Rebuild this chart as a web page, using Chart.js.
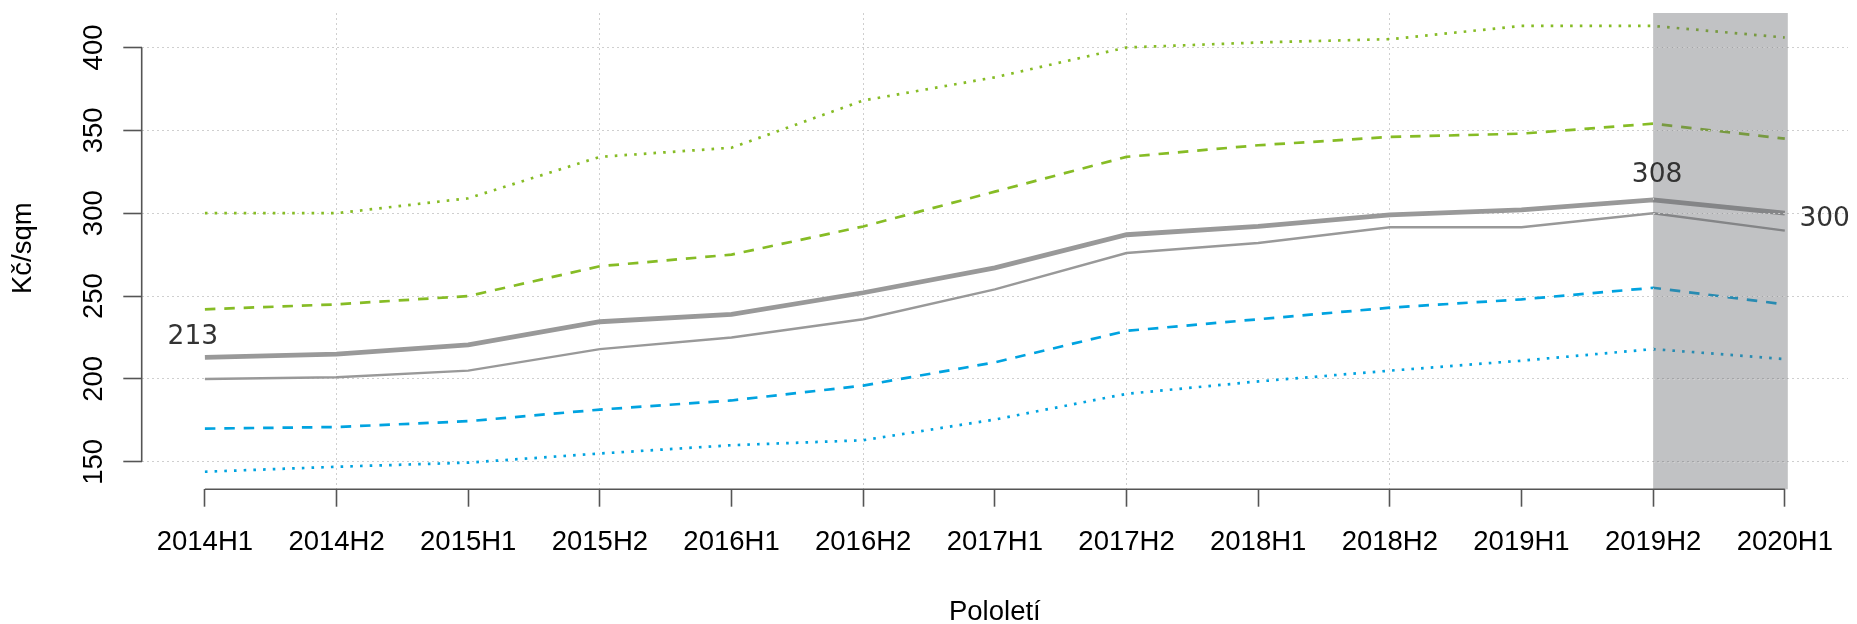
<!DOCTYPE html>
<html>
<head>
<meta charset="utf-8">
<title>Kč/sqm po pololetích</title>
<script src="https://cdn.jsdelivr.net/npm/chart.js@4.4.1/dist/chart.umd.min.js"></script>
<style>
  html, body { margin: 0; padding: 0; background: #fff; }
  canvas { display: block; }
</style>
</head>
<body>
<canvas id="priceChart" width="1857" height="624"></canvas>
<script>
const periods = ["2014H1", "2014H2", "2015H1", "2015H2", "2016H1", "2016H2", "2017H1",
  "2017H2", "2018H1", "2018H2", "2019H1", "2019H2", "2020H1"];
const p90 = [300, 300, 309, 334, 339.5, 368, 382, 400, 403, 405, 413, 413, 406];
const p75 = [242, 245, 250, 268, 275, 292, 313, 334, 341, 346, 348, 354, 345];
const avg = [213, 215, 220.5, 234.5, 239, 252, 267, 287, 292, 299, 302, 308, 300];
const median = [200, 201, 205, 218, 225, 236, 254, 276, 282, 291.5, 291.5, 300, 289.5];
const p25 = [170, 171, 174.5, 181.5, 187, 196, 210, 229, 236, 243, 248, 255, 245];
const p10 = [144, 147, 149.5, 155, 160, 163, 175.5, 191, 198.5, 205, 211, 218, 212];
const yTicks = [150, 200, 250, 300, 350, 400];
const shadeFrom = "2019H2";

const GREEN = "#86bc25", BLUE = "#00a3e0", GREY = "#999999";
const AXIS = "#555555", GRID = "#cfcfcf";
const SANS = "'Liberation Sans', Arial, sans-serif";
const DASHED = [10.5, 8.9], DOTTED = [2.6, 7.1];

function series(values, color, width, dash) {
  return {
    data: values.map((v, i) => ({ x: i, y: v })),
    borderColor: color,
    borderWidth: width,
    borderDash: dash,
    pointRadius: 0,
    tension: 0,
    fill: false,
  };
}

// R-like axes: short axis lines, rotated y labels, titles, shading + value labels
const rStyle = {
  id: "rStyle",
  afterDatasetsDraw(chart) {
    const { ctx, chartArea: area, scales: { x, y } } = chart;
    const x0 = x.getPixelForValue(periods.indexOf(shadeFrom));
    const x1 = x.getPixelForValue(periods.length - 1) + 3;
    ctx.save();
    ctx.fillStyle = "rgba(100,102,107,0.4)";
    ctx.fillRect(x0, area.top, x1 - x0, area.bottom - area.top);
    // grid stays light on top of the shading
    ctx.beginPath();
    ctx.rect(x0, area.top, x1 - x0, area.bottom - area.top);
    ctx.clip();
    ctx.strokeStyle = GRID;
    ctx.lineWidth = 1;
    ctx.setLineDash([2, 3]);
    ctx.beginPath();
    yTicks.forEach((v) => {
      const py = Math.round(y.getPixelForValue(v)) + 0.5;
      ctx.moveTo(x0, py);
      ctx.lineTo(x1, py);
    });
    const gx = Math.round(x0) + 0.5;
    ctx.moveTo(gx, area.top);
    ctx.lineTo(gx, area.bottom);
    ctx.stroke();
    ctx.restore();

    // value labels on the average line
    const last = avg.length - 1;
    const peak = avg.indexOf(Math.max(...avg));
    ctx.save();
    ctx.fillStyle = "#333333";
    ctx.font = "26.5px 'DejaVu Sans', sans-serif";
    ctx.textBaseline = "alphabetic";
    ctx.textAlign = "center";
    ctx.fillText(String(Math.round(avg[0])), x.getPixelForValue(0) - 12, y.getPixelForValue(avg[0]) - 13.4);
    ctx.fillText(String(Math.round(avg[peak])), x.getPixelForValue(peak) + 4, y.getPixelForValue(avg[peak]) - 17.7);
    ctx.textAlign = "left";
    ctx.fillText(String(Math.round(avg[last])), x.getPixelForValue(last) + 14.6, y.getPixelForValue(avg[last]) + 12.5);
    ctx.restore();
  },
  afterDraw(chart) {
    const { ctx, chartArea: area, scales: { x, y } } = chart;
    ctx.save();
    ctx.strokeStyle = AXIS;
    ctx.lineWidth = 1.6;
    ctx.beginPath();
    ctx.moveTo(area.left, y.getPixelForValue(yTicks[0]));
    ctx.lineTo(area.left, y.getPixelForValue(yTicks[yTicks.length - 1]));
    ctx.moveTo(x.getPixelForValue(0), area.bottom);
    ctx.lineTo(x.getPixelForValue(periods.length - 1), area.bottom);
    ctx.stroke();

    ctx.fillStyle = "#000000";
    ctx.font = "27.5px " + SANS;
    ctx.textAlign = "center";
    ctx.textBaseline = "alphabetic";
    yTicks.forEach((v) => {
      ctx.save();
      ctx.translate(101.6, y.getPixelForValue(v));
      ctx.rotate(-Math.PI / 2);
      ctx.fillText(String(v), 0, 0);
      ctx.restore();
    });

    ctx.font = "27.5px " + SANS;
    ctx.fillText("Pololetí", (area.left + area.right) / 2, 620);
    ctx.translate(31, (area.top + area.bottom) / 2 - 3);
    ctx.rotate(-Math.PI / 2);
    ctx.fillText("Kč/sqm", 0, 0);
    ctx.restore();
  },
};

new Chart(document.getElementById("priceChart"), {
  type: "line",
  data: {
    datasets: [
      series(p90, GREEN, 2.7, DOTTED),
      series(p75, GREEN, 2.7, DASHED),
      series(p10, BLUE, 2.7, DOTTED),
      series(p25, BLUE, 2.7, DASHED),
      series(median, GREY, 2.4, []),
      series(avg, GREY, 4.8, []),
    ],
  },
  options: {
    responsive: false,
    animation: false,
    devicePixelRatio: 1,
    layout: { padding: { top: 13, right: 9, left: 0, bottom: 0 } },
    plugins: { legend: { display: false }, tooltip: { enabled: false } },
    scales: {
      x: {
        type: "linear",
        min: -0.48,
        max: 12.48,
        afterBuildTicks: (s) => { s.ticks = periods.map((p, i) => ({ value: i })); },
        afterFit: (s) => { s.height = 134.7; },
        ticks: {
          callback: (v) => periods[v],
          font: { family: SANS, size: 27.5 },
          color: "#000000",
          padding: 19,
          maxRotation: 0,
          autoSkip: false,
        },
        grid: {
          color: (c) => (c.tick && c.tick.value % 2 === 1 ? GRID : "rgba(0,0,0,0)"),
          lineWidth: 1,
          tickLength: 17.4,
          tickColor: AXIS,
          tickWidth: 1.6,
        },
        border: { display: false, dash: [2, 3] },
      },
      y: {
        min: 133.4,
        max: 420.8,
        afterBuildTicks: (s) => { s.ticks = yTicks.map((v) => ({ value: v })); },
        afterFit: (s) => { s.width = 141.7; },
        ticks: { display: false },
        grid: {
          color: GRID,
          lineWidth: 1,
          tickLength: 18.4,
          tickColor: AXIS,
          tickWidth: 1.6,
        },
        border: { display: false, dash: [2, 3] },
      },
    },
  },
  plugins: [rStyle],
});
</script>
</body>
</html>
